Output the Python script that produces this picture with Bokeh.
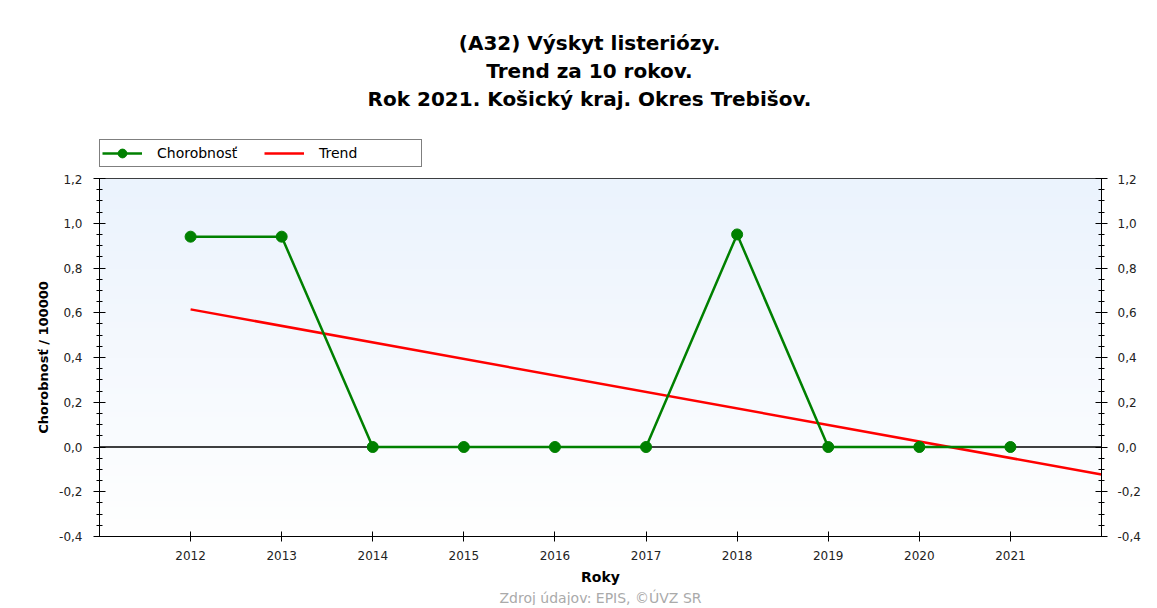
import numpy as np
from bokeh.plotting import figure
from bokeh.layouts import column
from bokeh.models import (LinearAxis, Title, Legend, LegendItem, Span, FixedTicker,
                          CustomJSTickFormatter, Range1d, Label)
from bokeh.embed import file_html
from bokeh.resources import INLINE

# ---- data ----
years = [2012, 2013, 2014, 2015, 2016, 2017, 2018, 2019, 2020, 2021]
chorobnost = [0.94, 0.94, 0.0, 0.0, 0.0, 0.0, 0.95, 0.0, 0.0, 0.0]
trend_years = [2012, 2022]
trend_values = [0.615, -0.123]
y_ticks = [-0.4, -0.2, 0.0, 0.2, 0.4, 0.6, 0.8, 1.0, 1.2]

title_lines = ["(A32) Výskyt listeriózy.", "Trend za 10 rokov.", "Rok 2021. Košický kraj. Okres Trebišov."]
y_label = "Chorobnosť / 100000"
x_label = "Roky"
source_text = "Zdroj údajov: EPIS, ©ÚVZ SR"
legend_labels = ["Chorobnosť", "Trend"]

X0, X1 = 2011, 2022
Y0, Y1 = -0.4, 1.2

FONT = "DejaVu Sans"
GREEN = "#008000"
RED = "#FF0000"
W = 1149
HEAD_H = 174
LEFT, RIGHT = 99, 48
FRAME_W, FRAME_H = 1002, 358

# ---------------- header (titles + legend) ----------------
# its frame is aligned with the main chart's frame by the column layout;
# the x range is set so that one unit is one pixel of the page
hf = figure(width=W, height=HEAD_H, output_backend="svg", toolbar_location=None,
            x_range=Range1d(LEFT, LEFT + FRAME_W), y_range=Range1d(HEAD_H, 0),
            x_axis_type=None, y_axis_type=None,
            min_border_left=LEFT, min_border_right=RIGHT, min_border_top=0, min_border_bottom=0,
            background_fill_color="white", border_fill_color="white")
hf.grid.visible = False
hf.outline_line_color = None

for txt, yy in zip(title_lines, [42, 70, 98]):
    hf.add_layout(Label(x=589, y=yy, text=txt, text_align="center", text_baseline="middle",
                        text_font=FONT, text_font_size="20px", text_font_style="bold",
                        text_color="black"))

# renderers with no visible points that only give the legend its symbols
nan = [float("nan")]
lg_line = hf.line(nan, nan, line_color=GREEN, line_width=2.5)
lg_pts = hf.scatter(nan, nan, size=11, fill_color=GREEN, line_color=GREEN)
lg_trend = hf.line(nan, nan, line_color=RED, line_width=2.5)

legend = Legend(items=[LegendItem(label=legend_labels[0], renderers=[lg_line, lg_pts], index=0),
                       LegendItem(label=legend_labels[1], renderers=[lg_trend], index=0)],
                orientation="horizontal", location=(0, 7), margin=0,
                padding=2, spacing=7, glyph_width=40, glyph_height=22,
                label_width=100, label_height=14, label_standoff=15,
                label_text_font=FONT, label_text_font_size="14px", label_text_color="black",
                border_line_color="black", border_line_width=1,
                background_fill_color="white", background_fill_alpha=1)
hf.add_layout(legend, "center")

# ---------------- main chart ----------------
p = figure(frame_width=FRAME_W, frame_height=FRAME_H, output_backend="svg", toolbar_location=None,
           x_range=Range1d(X0, X1), y_range=Range1d(Y0, Y1),
           min_border_left=LEFT, min_border_right=RIGHT, min_border_top=4, min_border_bottom=0,
           background_fill_color="white", border_fill_color="white")
p.grid.visible = False
p.outline_line_color = "black"

# background gradient
n = 200
top = np.array([235, 243, 253]); bot = np.array([255, 255, 255])
img = np.zeros((n, 1), dtype=np.uint32)
view = img.view(dtype=np.uint8).reshape((n, 1, 4))
for i in range(n):
    t = i / (n - 1)
    c = bot + (top - bot) * t
    view[i, 0, 0:3] = c.astype(np.uint8)
    view[i, 0, 3] = 255
p.image_rgba(image=[img], x=X0, y=Y0, dw=X1 - X0, dh=Y1 - Y0, level="image")

fmt = CustomJSTickFormatter(code="return tick.toFixed(1).replace('.', ',');")

def style_y(ax, standoff):
    ax.ticker = FixedTicker(ticks=y_ticks, minor_ticks=[round(Y0 + 0.05 * k, 2) for k in range(33)])
    ax.formatter = fmt
    ax.axis_line_color = "black"
    ax.major_tick_line_color = "black"
    ax.minor_tick_line_color = "black"
    ax.major_tick_in = 6
    ax.major_tick_out = 6
    ax.minor_tick_in = 3
    ax.minor_tick_out = 3
    ax.major_label_text_font = FONT
    ax.major_label_text_font_size = "12px"
    ax.major_label_text_color = "#222222"
    ax.major_label_standoff = standoff

style_y(p.yaxis[0], 11)
p.yaxis[0].axis_label = y_label
p.yaxis[0].axis_label_text_font = FONT
p.yaxis[0].axis_label_text_font_style = "bold"
p.yaxis[0].axis_label_text_font_size = "13px"
p.yaxis[0].axis_label_text_color = "black"
p.yaxis[0].axis_label_standoff = 5

right = LinearAxis()
style_y(right, 10)
p.add_layout(right, "right")

xa = p.xaxis[0]
xa.ticker = FixedTicker(ticks=years, minor_ticks=[])
xa.axis_line_color = "black"
xa.major_tick_line_color = "black"
xa.major_tick_in = 5
xa.major_tick_out = 5
xa.major_label_text_font = FONT
xa.major_label_text_font_size = "12px"
xa.major_label_text_color = "#222222"
xa.major_label_standoff = 9
xa.axis_label = x_label
xa.axis_label_text_font = FONT
xa.axis_label_text_font_style = "bold"
xa.axis_label_text_font_size = "14px"
xa.axis_label_text_color = "black"
xa.axis_label_standoff = 6

# zero line
p.add_layout(Span(location=0, dimension="width", line_color="black", line_width=1.3, level="underlay"))

# data
p.line(trend_years, trend_values, line_color=RED, line_width=2.5)
p.line(years, chorobnost, line_color=GREEN, line_width=2.5)
p.scatter(years, chorobnost, size=11, fill_color=GREEN, line_color=GREEN)

p.add_layout(Title(text=source_text, align="center", text_font=FONT, text_font_size="14px",
                   text_font_style="normal", text_color="#AAAAAA", standoff=0), "below")

layout = column(hf, p, spacing=0)
open("out.html", "w").write(file_html(layout, INLINE))
